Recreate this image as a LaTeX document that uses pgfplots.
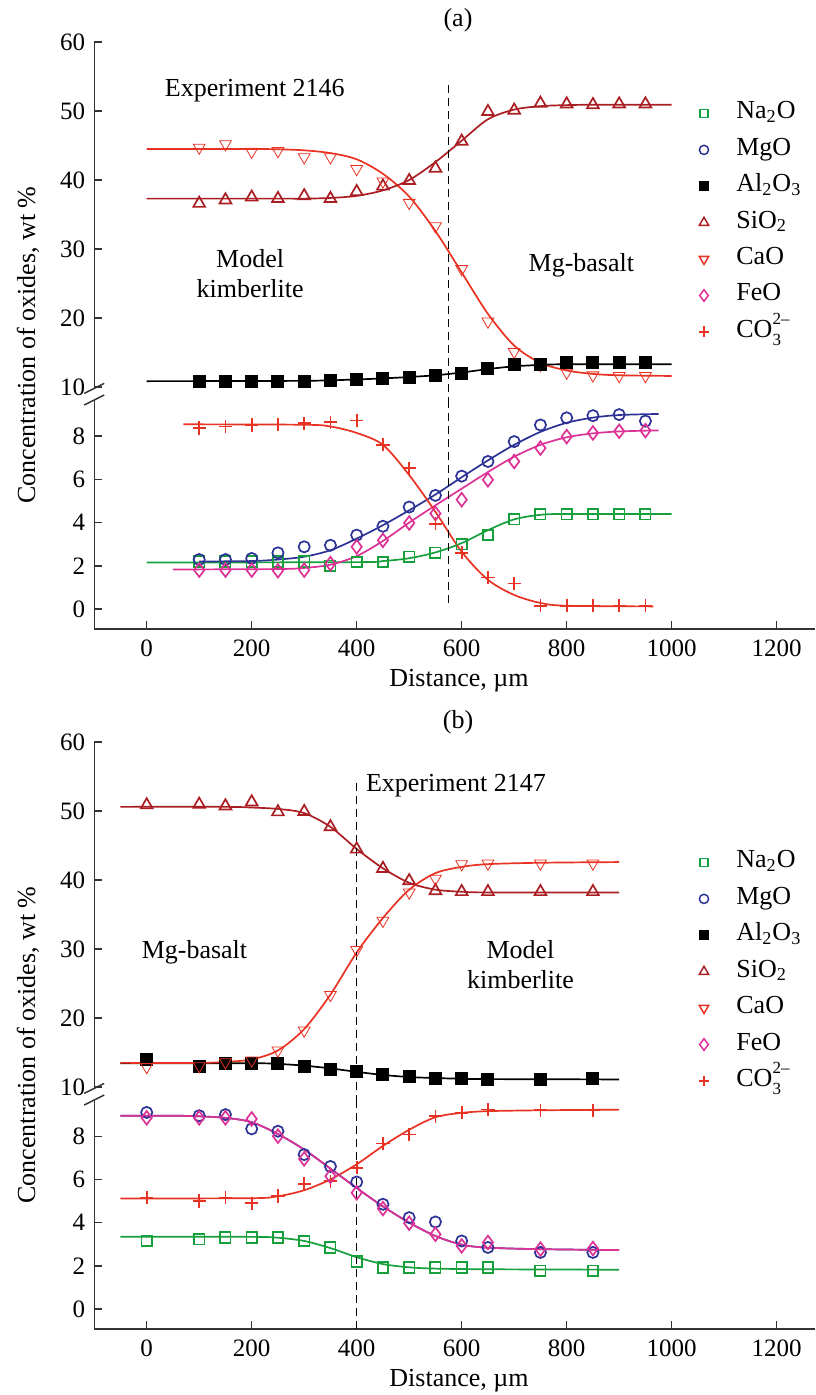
\documentclass[border=0pt]{standalone}
\usepackage{fontspec}
\setmainfont{Liberation Serif}
\usepackage{pgfplots}
\pgfplotsset{compat=1.18}

\definecolor{cgreen}{RGB}{22,160,60}
\definecolor{cblue}{RGB}{45,50,150}
\definecolor{cdred}{RGB}{170,30,35}
\definecolor{cred}{RGB}{232,50,35}
\definecolor{cmag}{RGB}{220,50,150}
\newcommand\tfont{\fontsize{12.5}{14}\selectfont}
\newcommand\lfont{\fontsize{13}{15}\selectfont}
\newcommand\sfont{\fontsize{8.5}{9}\selectfont}

\pgfplotsset{
  base/.style={scale only axis, width=360.4pt, xmin=-100, xmax=1273, clip=false,
    anchor=south west,
    axis line style={line width=0.7pt, black!80},
    tick style={line width=0.7pt, black!80},
    tick align=inside, major tick length=4pt,
    ticklabel style={font=\tfont},
    /pgf/number format/assume math mode=true,
    /pgf/number format/1000 sep={},
    yticklabel style={xshift=-1pt},
    xticklabel style={yshift=-2pt}},
  upper/.style={base, height=173.2pt, ymin=9.8, ymax=60, ytick={10,20,...,60},
    axis x line=none, axis y line*=left, xtick=\empty},
  lower/.style={base, height=114.5pt, ymin=-0.926, ymax=9.676, ytick={0,2,...,8},
    axis x line*=bottom, axis y line*=left, xtick={0,200,...,1200}},
  cur/.style={smooth, tension=0.5, no marks, line width=0.85pt, forget plot},
  pts/.style={only marks, forget plot, mark options={solid, line width=0.85pt}},
  mNa/.style={mark=square, mark size=2.6pt, draw=cgreen},
  mMg/.style={mark=o, mark size=2.8pt, draw=cblue},
  mAl/.style={mark=square*, mark size=2.8pt, draw=black, fill=black},
  mSi/.style={mark=triangle, mark size=3.4pt, draw=cdred},
  mCa/.style={mark=triangle, mark size=3.4pt, draw=cred, mark options={rotate=180}},
  mFe/.style={mark=diamond, mark size=3.4pt, draw=cmag},
  mCO/.style={mark=+, mark size=3.3pt, draw=cred},
  leg/.style={legend style={draw=none, fill=none, font=\lfont, inner sep=0pt,
    row sep=5.7pt, nodes={inner sep=0pt, text height=9pt, text depth=3.5pt},
    /tikz/every odd column/.append style={column sep=12pt},
    anchor=north west, xshift=-4pt, yshift=5.2pt},
    legend cell align=left,
    legend image code/.code={\draw[##1] plot coordinates {(0pt,0pt)}; \path (-4pt,0pt) (4pt,0pt);}},
}
\newcommand\addlegs{%
  \addlegendimage{only marks, mark=square, mark size=2.1pt, draw=cgreen, mark options={solid, line width=0.75pt}}\addlegendentry{Na\textsubscript{2}O}
  \addlegendimage{only marks, mark=o, mark size=2.3pt, draw=cblue, mark options={solid, line width=0.75pt}}\addlegendentry{MgO}
  \addlegendimage{only marks, mark=square*, mark size=2.3pt, draw=black, fill=black}\addlegendentry{Al\textsubscript{2}O\textsubscript{3}}
  \addlegendimage{only marks, mark=triangle, mark size=2.7pt, draw=cdred, mark options={solid, line width=0.75pt}}\addlegendentry{SiO\textsubscript{2}}
  \addlegendimage{only marks, mark=triangle, mark size=2.7pt, draw=cred, mark options={solid, line width=0.75pt, rotate=180}}\addlegendentry{CaO}
  \addlegendimage{only marks, mark=diamond, mark size=2.9pt, draw=cmag, mark options={solid, line width=0.75pt}}\addlegendentry{FeO}
  \addlegendimage{only marks, mark=+, mark size=2.7pt, draw=cred, mark options={solid, line width=0.85pt}}\addlegendentry{CO\rlap{\raisebox{1.05ex}{\sfont 2--}}\raisebox{-0.65ex}{\sfont 3}\hphantom{\sfont 2--}}
}

\begin{document}
\begin{tikzpicture}
\useasboundingbox (-47.1pt,-697.5pt) rectangle (360.4pt,0pt);

% ================= panel (a) upper
\begin{axis}[upper, at={(0pt,-194.2pt)}, leg, legend style={at={(axis cs:1060,50)}}]
\addlegs
\addplot[cur, color=cred] coordinates {(0,44.5)(100,44.5)(200,44.5)(250,44.45)(300,44.3)(350,43.9)(400,43.0)(450,40.9)(500,37.6)(550,32.6)(600,26.6)(650,20.6)(700,16.0)(750,13.5)(800,12.4)(850,11.9)(900,11.7)(1000,11.6)};
\addplot[cur, color=cdred] coordinates {(0,37.3)(250,37.3)(300,37.3)(350,37.4)(400,37.7)(450,38.5)(500,40.0)(550,42.6)(600,45.7)(650,48.8)(700,50.2)(750,50.7)(800,50.85)(850,50.9)(1000,50.9)};
\addplot[cur, color=black] coordinates {(0,10.85)(300,10.9)(400,11.1)(450,11.25)(500,11.45)(550,11.7)(600,12.1)(650,12.6)(700,13.0)(750,13.2)(800,13.3)(1000,13.3)};
\addplot[pts, mSi] coordinates {(100,36.6)(150,37.1)(200,37.5)(250,37.3)(300,37.7)(350,37.3)(400,38.3)(450,39.1)(500,39.9)(550,41.7)(600,45.6)(650,49.9)(700,50.1)(750,51.1)(800,51.0)(850,50.9)(900,51.0)(950,51.0)};
\addplot[pts, mCa, mark options={rotate=180}] coordinates {(100,44.7)(150,45.2)(200,44.1)(250,44.2)(300,43.3)(350,43.3)(400,41.6)(450,39.8)(500,36.7)(550,33.3)(600,27.1)(650,19.5)(700,15.1)(750,13.2)(800,12.1)(850,11.7)(900,11.6)(950,11.6)};
\addplot[pts, mAl] coordinates {(100,10.75)(150,10.8)(200,10.8)(250,10.8)(300,10.85)(350,11.0)(400,11.15)(450,11.2)(500,11.4)(550,11.65)(600,12.0)(650,12.65)(700,13.2)(750,13.2)(800,13.5)(850,13.5)(900,13.5)(950,13.5)};
\draw[line width=0.6pt, dash pattern=on 4pt off 2.5pt] (axis cs:575,53.8) -- ([yshift=-5.8pt]axis cs:575,9.8);
\draw[line width=0.7pt, black!80] ([xshift=-5pt,yshift=-2.5pt]rel axis cs:0,0) -- ([xshift=5pt,yshift=2.5pt]rel axis cs:0,0);
\node[font=\lfont] at (axis cs:206,53.0) {Experiment 2146};
\node[font=\lfont, align=center] at (axis cs:197,26.5) {Model\\kimberlite};
\node[font=\lfont] at (axis cs:828,27.7) {Mg-basalt};
\end{axis}

% ================= panel (a) lower
\begin{axis}[lower, at={(0pt,-314.5pt)}]
\addplot[cur, color=cgreen] coordinates {(0,2.15)(400,2.17)(450,2.22)(500,2.35)(550,2.62)(600,3.05)(650,3.65)(700,4.15)(750,4.36)(800,4.4)(1000,4.4)};
\addplot[cur, color=cblue] coordinates {(100,2.2)(200,2.22)(250,2.29)(300,2.42)(350,2.72)(400,3.26)(450,3.88)(500,4.57)(550,5.3)(600,6.1)(650,6.88)(700,7.6)(750,8.2)(800,8.62)(850,8.86)(900,8.98)(975,9.03)};
\addplot[cur, color=cmag] coordinates {(50,1.83)(250,1.85)(300,1.9)(350,2.05)(400,2.45)(450,3.15)(500,4.0)(550,4.8)(600,5.57)(650,6.34)(700,7.05)(750,7.6)(800,7.95)(850,8.13)(900,8.22)(975,8.27)};
\addplot[cur, color=cred] coordinates {(70,8.55)(300,8.53)(350,8.45)(400,8.15)(450,7.6)(500,6.2)(550,4.5)(600,2.65)(650,1.35)(700,0.65)(750,0.28)(800,0.15)(965,0.12)};
\addplot[pts, mNa] coordinates {(100,2.2)(150,2.2)(200,2.2)(250,2.2)(300,2.2)(350,2.0)(400,2.18)(450,2.18)(500,2.42)(550,2.6)(600,3.0)(650,3.42)(700,4.15)(750,4.38)(800,4.38)(850,4.38)(900,4.38)(950,4.38)};
\addplot[pts, mMg] coordinates {(100,2.29)(150,2.29)(200,2.34)(250,2.6)(300,2.88)(350,2.95)(400,3.42)(450,3.83)(500,4.72)(550,5.26)(600,6.15)(650,6.83)(700,7.75)(750,8.52)(800,8.85)(850,8.95)(900,9.0)(950,8.7)};
\addplot[pts, mFe] coordinates {(100,1.8)(150,1.8)(200,1.8)(250,1.77)(300,1.8)(350,2.1)(400,2.88)(450,3.18)(500,3.98)(550,4.42)(600,5.06)(650,5.98)(700,6.83)(750,7.45)(800,7.98)(850,8.15)(900,8.23)(950,8.26)};
\addplot[pts, mCO] coordinates {(100,8.38)(150,8.45)(200,8.52)(250,8.54)(300,8.6)(350,8.65)(400,8.72)(450,7.6)(500,6.52)(550,3.95)(600,2.6)(650,1.46)(700,1.18)(750,0.15)(800,0.15)(850,0.15)(900,0.15)(950,0.15)};
\draw[line width=0.6pt, dash pattern=on 4pt off 2.5pt] (axis cs:575,9.676) -- (axis cs:575,0.1);
\draw[line width=0.7pt, black!80] ([xshift=-5pt,yshift=-2.5pt]rel axis cs:0,1) -- ([xshift=5pt,yshift=2.5pt]rel axis cs:0,1);
\end{axis}

% ================= panel (b) upper
\begin{axis}[upper, at={(0pt,-544.2pt)}, leg, legend style={at={(axis cs:1060,42.9)}}]
\addlegs
\addplot[cur, color=cdred] coordinates {(-50,50.6)(150,50.6)(200,50.5)(250,50.3)(300,49.7)(350,47.7)(400,44.5)(450,41.7)(500,39.6)(550,38.6)(600,38.3)(650,38.2)(900,38.2)};
\addplot[cur, color=black] coordinates {(-50,13.45)(200,13.45)(250,13.35)(300,13.1)(350,12.7)(400,12.2)(450,11.75)(500,11.45)(550,11.3)(600,11.2)(650,11.15)(900,11.1)};
\addplot[cur, color=cred] coordinates {(-50,13.5)(100,13.5)(150,13.65)(200,14.0)(250,15.3)(300,18.4)(350,23.4)(400,29.5)(450,34.5)(500,38.6)(550,41.0)(600,41.9)(650,42.3)(750,42.5)(900,42.6)};
\addplot[pts, mSi] coordinates {(0,50.87)(100,50.96)(150,50.72)(200,51.3)(250,49.86)(300,49.9)(350,47.7)(400,44.46)(450,41.66)(500,39.88)(550,38.43)(600,38.3)(650,38.3)(750,38.3)(850,38.3)};
\addplot[pts, mAl] coordinates {(0,13.95)(100,13.0)(150,13.35)(200,13.45)(250,13.4)(300,13.0)(350,12.55)(400,12.2)(450,11.8)(500,11.5)(550,11.3)(600,11.3)(650,11.05)(750,11.1)(850,11.3)};
\addplot[pts, mCa, mark options={rotate=180}] coordinates {(0,12.9)(100,13.04)(150,13.6)(200,13.86)(250,15.3)(300,18.2)(350,23.35)(400,29.86)(450,34.1)(500,38.2)(550,40.2)(600,42.3)(650,42.4)(750,42.4)(850,42.4)};
\draw[line width=0.6pt, dash pattern=on 4pt off 2.5pt] (axis cs:400,54.1) -- ([yshift=-5.8pt]axis cs:400,9.8);
\draw[line width=0.7pt, black!80] ([xshift=-5pt,yshift=-2.5pt]rel axis cs:0,0) -- ([xshift=5pt,yshift=2.5pt]rel axis cs:0,0);
\node[font=\lfont] at (axis cs:589,53.6) {Experiment 2147};
\node[font=\lfont] at (axis cs:91,29.5) {Mg-basalt};
\node[font=\lfont, align=center] at (axis cs:712,27.7) {Model\\kimberlite};
\end{axis}

% ================= panel (b) lower
\begin{axis}[lower, at={(0pt,-664.5pt)}]
\addplot[cur, color=cgreen] coordinates {(-50,3.35)(200,3.34)(250,3.3)(300,3.15)(350,2.82)(400,2.4)(450,2.08)(500,1.93)(550,1.87)(650,1.84)(900,1.82)};
\addplot[cur, color=cred] coordinates {(-50,5.12)(200,5.13)(250,5.22)(300,5.5)(350,6.0)(400,6.7)(450,7.55)(500,8.3)(550,8.88)(600,9.08)(650,9.16)(750,9.2)(900,9.23)};
\addplot[cur, color=cblue] coordinates {(-50,8.95)(50,8.95)(100,8.92)(150,8.85)(200,8.65)(250,8.1)(300,7.38)(350,6.5)(400,5.6)(450,4.75)(500,4.0)(550,3.38)(600,2.98)(650,2.84)(750,2.77)(900,2.73)};
\addplot[cur, color=cmag] coordinates {(-50,8.95)(50,8.95)(100,8.92)(150,8.85)(200,8.65)(250,8.1)(300,7.38)(350,6.5)(400,5.6)(450,4.75)(500,4.0)(550,3.38)(600,2.98)(650,2.84)(750,2.77)(900,2.73)};
\addplot[pts, mNa] coordinates {(0,3.15)(100,3.23)(150,3.31)(200,3.31)(250,3.31)(300,3.15)(350,2.85)(400,2.2)(450,1.92)(500,1.92)(550,1.92)(600,1.92)(650,1.92)(750,1.77)(850,1.77)};
\addplot[pts, mCO] coordinates {(0,5.15)(100,5.0)(150,5.15)(200,4.9)(250,5.23)(300,5.8)(350,5.92)(400,6.54)(450,7.66)(500,8.08)(550,8.92)(600,9.08)(650,9.23)(750,9.2)(850,9.2)};
\addplot[pts, mMg] coordinates {(0,9.1)(100,8.95)(150,9.0)(200,8.34)(250,8.23)(300,7.15)(350,6.6)(400,5.88)(450,4.85)(500,4.23)(550,4.03)(600,3.15)(650,2.85)(750,2.62)(850,2.62)};
\addplot[pts, mFe] coordinates {(0,8.85)(100,8.85)(150,8.85)(200,8.8)(250,8.0)(300,6.95)(350,6.15)(400,5.38)(450,4.65)(500,3.97)(550,3.46)(600,2.92)(650,3.08)(750,2.77)(850,2.8)};
\draw[line width=0.6pt, dash pattern=on 4pt off 2.5pt] (axis cs:400,9.676) -- (axis cs:400,-0.926);
\draw[line width=0.7pt, black!80] ([xshift=-5pt,yshift=-2.5pt]rel axis cs:0,1) -- ([xshift=5pt,yshift=2.5pt]rel axis cs:0,1);
\end{axis}

% ================= labels
\node[font=\lfont] at (181.9pt,-10pt) {(a)};
\node[font=\lfont] at (181.9pt,-361pt) {(b)};
\node[font=\lfont, rotate=90] at (-33.1pt,-172.5pt) {Concentration of oxides, wt \%};
\node[font=\lfont, rotate=90] at (-33.1pt,-522.5pt) {Concentration of oxides, wt \%};
\node[font=\lfont] at (182.4pt,-340.5pt) {Distance, µm};
\node[font=\lfont] at (182.4pt,-690.5pt) {Distance, µm};
\end{tikzpicture}
\end{document}
